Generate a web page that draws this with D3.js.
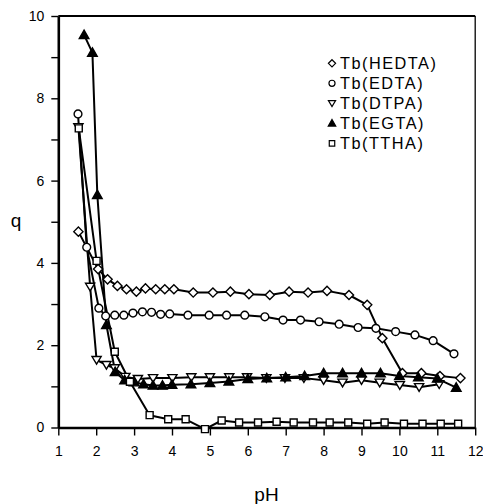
<!DOCTYPE html>
<html>
<head>
<meta charset="UTF-8">
<style>
  body { margin: 0; background: #fff; }
  svg text { font-family: "Liberation Sans", Arial, Helvetica, sans-serif; fill: #000; }
</style>
<script src="https://d3js.org/d3.v7.min.js"></script>
</head>
<body>
<svg width="483" height="504"></svg>
<script>
// data (pH, q)
var hedtaPH = [1.53, 2.05, 2.3, 2.56, 2.8, 3.06, 3.3, 3.57, 3.81, 4.05, 4.56, 5.08, 5.54, 6.03, 6.58, 7.09, 7.59, 8.09, 8.67, 9.15, 9.55, 10.08, 10.58, 11.07, 11.61];
var hedtaQ  = [4.76, 3.85, 3.6, 3.44, 3.36, 3.3, 3.38, 3.36, 3.36, 3.36, 3.28, 3.28, 3.3, 3.24, 3.22, 3.3, 3.28, 3.32, 3.22, 2.98, 2.17, 1.32, 1.32, 1.25, 1.2];

var edtaPH = [1.52, 1.75, 2.07, 2.25, 2.49, 2.73, 2.97, 3.22, 3.46, 3.7, 3.94, 4.42, 4.98, 5.44, 5.92, 6.45, 6.93, 7.39, 7.88, 8.41, 8.91, 9.38, 9.9, 10.41, 10.89, 11.44];
var edtaQ  = [7.62, 4.38, 2.9, 2.71, 2.73, 2.73, 2.78, 2.81, 2.8, 2.75, 2.76, 2.73, 2.73, 2.73, 2.73, 2.69, 2.61, 2.61, 2.57, 2.51, 2.43, 2.41, 2.33, 2.25, 2.11, 1.79];

var dtpaPH = [1.53, 1.84, 2.01, 2.27, 2.49, 2.77, 3.1, 3.5, 4.01, 4.51, 5.0, 5.51, 5.98, 6.49, 6.98, 7.48, 8.0, 8.5, 9.0, 9.48, 10.01, 10.52, 11.05];
var dtpaQ  = [7.3, 3.42, 1.64, 1.52, 1.44, 1.23, 1.18, 1.2, 1.2, 1.22, 1.22, 1.22, 1.22, 1.2, 1.2, 1.2, 1.15, 1.09, 1.15, 1.09, 1.03, 0.98, 1.05];

var egtaPH = [1.68, 1.9, 2.03, 2.27, 2.5, 2.75, 3.0, 3.25, 3.5, 3.75, 4.0, 4.5, 5.0, 5.5, 6.0, 6.5, 7.0, 7.5, 8.0, 8.5, 9.0, 9.5, 10.0, 10.5, 11.0, 11.5];
var egtaQ  = [9.54, 9.11, 5.65, 2.49, 1.35, 1.15, 1.1, 1.05, 1.02, 1.02, 1.04, 1.05, 1.08, 1.12, 1.18, 1.2, 1.22, 1.25, 1.32, 1.32, 1.32, 1.32, 1.25, 1.22, 1.19, 0.97];

var tthaPH = [1.54, 2.01, 2.49, 2.89, 3.41, 3.9, 4.36, 4.87, 5.31, 5.77, 6.27, 6.76, 7.21, 7.72, 8.16, 8.65, 9.15, 9.61, 10.12, 10.61, 11.09, 11.55];
var tthaQ  = [7.27, 4.05, 1.84, 1.11, 0.3, 0.2, 0.2, -0.04, 0.17, 0.12, 0.12, 0.14, 0.12, 0.12, 0.12, 0.12, 0.09, 0.12, 0.09, 0.09, 0.09, 0.09];

var seriesNames = ["Tb(HEDTA)", "Tb(EDTA)", "Tb(DTPA)", "Tb(EGTA)", "Tb(TTHA)"];
var xTicks = [1, 2, 3, 4, 5, 6, 7, 8, 9, 10, 11, 12];
var yTicks = [0, 1, 2, 3, 4, 5, 6, 7, 8, 9, 10];

var svg = d3.select("svg");

var x = d3.scaleLinear().domain([1, 12]).range([58.3, 475.2]);
var y = d3.scaleLinear().domain([0, 10]).range([427.5, 16]);

// marker shapes
function marker(kind, s) {
    var p = d3.path();
    if (kind == "diamond") {
        p.moveTo(0, -4.6 * s); p.lineTo(4.6 * s, 0); p.lineTo(0, 4.6 * s); p.lineTo(-4.6 * s, 0); p.closePath();
    } else if (kind == "tdown") {
        p.moveTo(-4.6 * s, -3.5 * s); p.lineTo(4.6 * s, -3.5 * s); p.lineTo(0, 4.2 * s); p.closePath();
    } else if (kind == "tup") {
        p.moveTo(0, -4.8 * s); p.lineTo(4.8 * s, 3.6 * s); p.lineTo(-4.8 * s, 3.6 * s); p.closePath();
    } else if (kind == "square") {
        p.rect(-3.5 * s, -3.5 * s, 7 * s, 7 * s);
    } else {
        p.arc(0, 0, 3.9 * s, 0, 2 * Math.PI); p.closePath();
    }
    return p.toString();
}

var series = [
    { name: seriesNames[0], ph: hedtaPH, q: hedtaQ, kind: "diamond", fill: "#fff" },
    { name: seriesNames[1], ph: edtaPH, q: edtaQ, kind: "circle", fill: "#fff" },
    { name: seriesNames[2], ph: dtpaPH, q: dtpaQ, kind: "tdown", fill: "#fff" },
    { name: seriesNames[3], ph: egtaPH, q: egtaQ, kind: "tup", fill: "#000" },
    { name: seriesNames[4], ph: tthaPH, q: tthaQ, kind: "square", fill: "#fff" }
];
series.forEach(function(s) {
    s.pts = s.ph.map(function(v, i) { return [v, s.q[i]]; });
});

// frame: top and right lines
svg.append("line").attr("x1", x(1)).attr("x2", x(12)).attr("y1", y(10)).attr("y2", y(10))
    .attr("stroke", "#000").attr("stroke-width", 1.8);
svg.append("line").attr("x1", x(12)).attr("x2", x(12)).attr("y1", y(10)).attr("y2", y(0))
    .attr("stroke", "#000").attr("stroke-width", 1.3);

// axes
var xAxis = svg.append("g")
    .attr("transform", "translate(0," + y(0) + ")")
    .call(d3.axisBottom(x).tickValues(xTicks).tickFormat(d3.format("d")).tickSize(8).tickPadding(11).tickSizeOuter(0));
var yAxis = svg.append("g")
    .attr("transform", "translate(" + x(1) + ",0)")
    .call(d3.axisLeft(y).tickValues(yTicks).tickFormat(function(d) { return d % 2 == 0 ? d : ""; })
        .tickSize(7).tickPadding(7).tickSizeOuter(0));

[xAxis, yAxis].forEach(function(a) {
    a.select(".domain").attr("stroke-width", 2.6);
    a.selectAll(".tick line").attr("stroke-width", 1.4);
    a.selectAll(".tick text").attr("font-size", "14px")
        .attr("font-family", "'Liberation Sans', Arial, sans-serif");
});

// axis titles
svg.append("text").attr("x", 16).attr("y", 227).attr("text-anchor", "middle")
    .attr("font-size", "19px").text("q");
svg.append("text").attr("x", 266.5).attr("y", 501).attr("text-anchor", "middle")
    .attr("font-size", "19px").text("pH");

// lines
var line = d3.line().x(function(d) { return x(d[0]); }).y(function(d) { return y(d[1]); });
var plot = svg.append("g");
series.forEach(function(s) {
    plot.append("path").datum(s.pts).attr("d", line)
        .attr("fill", "none").attr("stroke", "#000").attr("stroke-width", 2)
        .attr("stroke-linejoin", "round");
});

// markers
series.forEach(function(s) {
    plot.selectAll(null).data(s.pts).enter().append("path")
        .attr("transform", function(d) { return "translate(" + x(d[0]) + "," + y(d[1]) + ")"; })
        .attr("d", marker(s.kind, 1))
        .attr("fill", s.fill).attr("stroke", "#000").attr("stroke-width", 1.4);
});

// legend
var legend = svg.append("g").attr("transform", "translate(332,63.3)");
series.forEach(function(s, i) {
    var row = legend.append("g").attr("transform", "translate(0," + i * 20 + ")");
    row.append("path").attr("d", marker(s.kind, 0.78))
        .attr("fill", s.fill).attr("stroke", "#000").attr("stroke-width", 1.2);
    row.append("text").attr("x", 8).attr("y", 6)
        .attr("font-size", "16.3px").attr("letter-spacing", "1.5px").text(s.name);
});
</script>
</body>
</html>
